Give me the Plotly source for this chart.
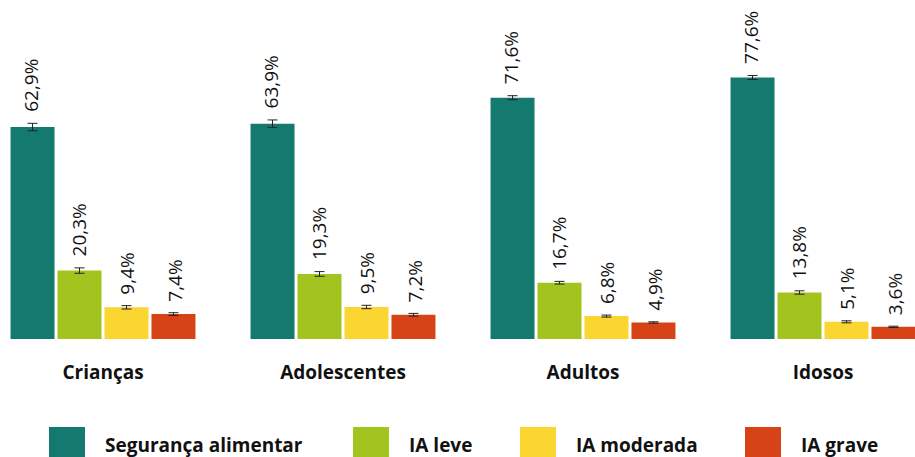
import plotly.graph_objects as go

categories = ["Crianças", "Adolescentes", "Adultos", "Idosos"]
series_names = ["Segurança alimentar", "IA leve", "IA moderada", "IA grave"]
seguranca = [62.9, 63.9, 71.6, 77.6]
ia_leve = [20.3, 19.3, 16.7, 13.8]
ia_moderada = [9.4, 9.5, 6.8, 5.1]
ia_grave = [7.4, 7.2, 4.9, 3.6]
err_seguranca = [1.1, 1.1, 0.6, 0.6]
err_leve = [0.8, 0.7, 0.4, 0.5]
err_moderada = [0.5, 0.5, 0.3, 0.3]
err_grave = [0.4, 0.4, 0.2, 0.2]

colors = ["#147A70", "#A3C41F", "#FBD530", "#D54317"]
values = [seguranca, ia_leve, ia_moderada, ia_grave]
errors = [err_seguranca, err_leve, err_moderada, err_grave]

W, H = 915, 457
Y0 = 339  # pixel of y=0 in figure coords

fig = go.Figure()
for name, vals, errs, col in zip(series_names, values, errors, colors):
    fig.add_trace(go.Bar(
        x=categories, y=vals, name=name, marker_color=col, marker_line_width=0,
        error_y=dict(type="data", array=errs, visible=True, color="#222222",
                     thickness=1, width=5),
        showlegend=False,
    ))

offsets = [-0.3, -0.1, 0.1, 0.3]
annotations = []
for si, (vals, errs) in enumerate(zip(values, errors)):
    for ci, (v, e) in enumerate(zip(vals, errs)):
        annotations.append(dict(
            x=ci + offsets[si], y=v + e, xref="x", yref="y",
            text=(f"{v:.1f}%").replace(".", ","), showarrow=False,
            textangle=-90, yanchor="bottom", xanchor="center", yshift=9,
            font=dict(family="Open Sans", size=19, color="#111111"),
        ))

# custom legend (pixel positions)
leg_x = [49, 353, 520, 745]
shapes = []
for i, (name, col) in enumerate(zip(series_names, colors)):
    shapes.append(dict(type="rect", xref="paper", yref="paper",
                       x0=leg_x[i] / W, x1=(leg_x[i] + 36) / W,
                       y0=(Y0 - 460) / Y0, y1=(Y0 - 427) / Y0,
                       fillcolor=col, line_width=0))
    annotations.append(dict(
        x=(leg_x[i] + 54) / W, y=(Y0 - 445) / Y0,
        xref="paper", yref="paper",
        text=f"<b>{name}</b>", showarrow=False, xanchor="left", yanchor="middle",
        font=dict(family="Open Sans", size=19, color="#111111"),
    ))

fig.update_layout(
    width=W, height=H,
    margin=dict(l=0, r=0, t=0, b=H - Y0),
    paper_bgcolor="white", plot_bgcolor="white",
    barmode="group", bargap=0.217, bargroupgap=0.064,
    hovermode=False,
    xaxis=dict(range=[-103 / 240, (W - 103) / 240], showgrid=False,
               zeroline=False, showline=False,
               ticks="outside", ticklen=16, tickcolor="white",
               tickfont=dict(family="Open Sans", size=19, color="#111111"),
               tickvals=categories, ticktext=[f"<b>{c}</b>" for c in categories]),
    yaxis=dict(range=[0, Y0 / 3.37], visible=False, showgrid=False, zeroline=False),
    shapes=shapes, annotations=annotations,
)

fig.write_html(
    "out.html",
    config={"displayModeBar": False},
    post_script="document.body.style.margin='0';document.body.style.overflow='hidden';",
)
